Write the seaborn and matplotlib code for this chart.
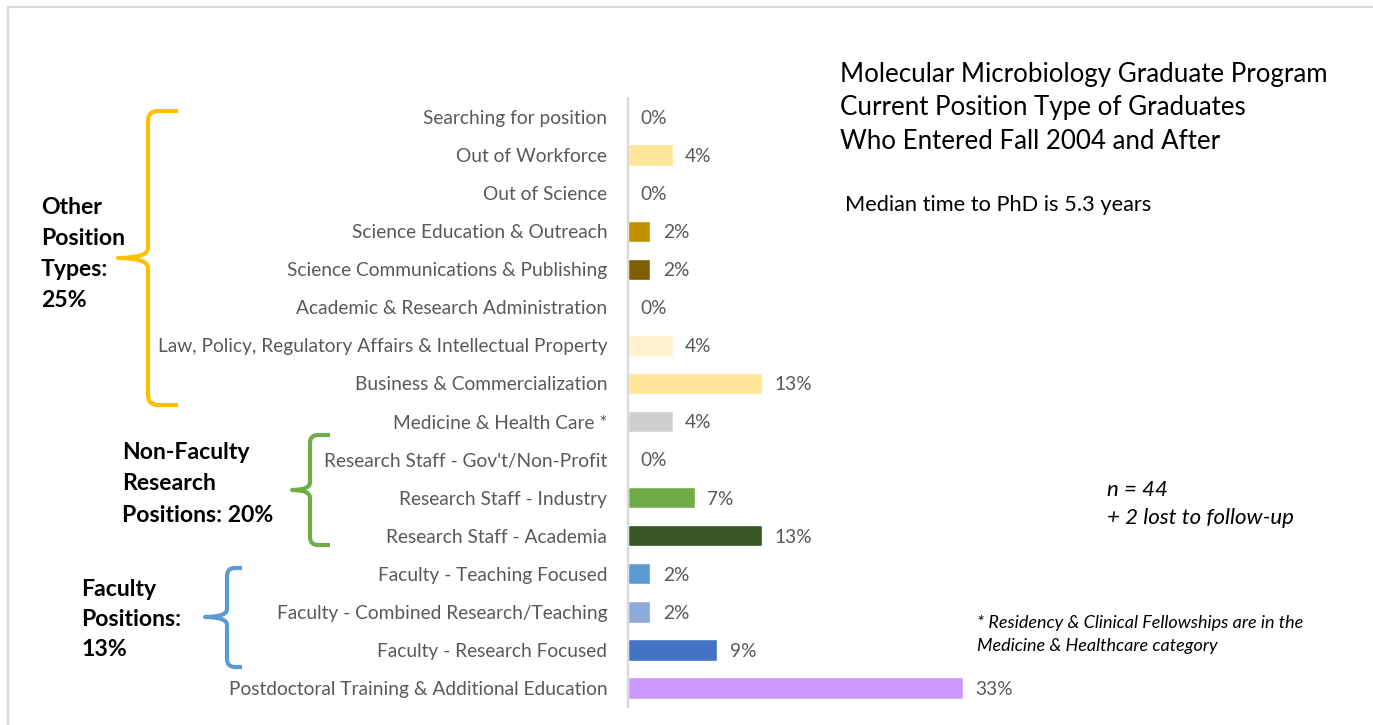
import matplotlib
matplotlib.use("Agg")
import matplotlib.pyplot as plt
from matplotlib.path import Path
from matplotlib.patches import PathPatch
import seaborn as sns
import pandas as pd

# Position categories, top to bottom
categories = [
    "Searching for position",
    "Out of Workforce",
    "Out of Science",
    "Science Education & Outreach",
    "Science Communications & Publishing",
    "Academic & Research Administration",
    "Law, Policy, Regulatory Affairs & Intellectual Property",
    "Business & Commercialization",
    "Medicine & Health Care *",
    "Research Staff - Gov't/Non-Profit",
    "Research Staff - Industry",
    "Research Staff - Academia",
    "Faculty - Teaching Focused",
    "Faculty - Combined Research/Teaching",
    "Faculty - Research Focused",
    "Postdoctoral Training & Additional Education",
]
# Graduates in each category (44 reached + 2 lost to follow-up)
counts = [0, 2, 0, 1, 1, 0, 2, 6, 2, 0, 3, 6, 1, 1, 4, 15]
total_graduates = 46

bar_colors = [
    "#FFE699", "#FFE699", "#FFE699", "#BF9000", "#7F6000", "#FFE699",
    "#FFF2CC", "#FFE699", "#D0CECE", "#A9D18E", "#70AD47", "#375623",
    "#5B9BD5", "#8EA9DB", "#4472C4", "#CC99FF",
]

percent = [c / total_graduates * 100 for c in counts]
df = pd.DataFrame({"category": categories, "percent": percent})
palette = dict(zip(categories, bar_colors))

sns.set_theme(style="white")
FONT = "Lato"
plt.rcParams["font.family"] = [FONT, "DejaVu Sans"]

W, H = 1373, 725
fig = plt.figure(figsize=(W / 100, H / 100), dpi=100)

# Main bar axes
ax = fig.add_axes([628 / W, 1 - 707 / H, 719 / W, 609 / H])
sns.barplot(data=df, x="percent", y="category", hue="category", palette=palette,
            order=categories, hue_order=categories, legend=False, width=0.56,
            saturation=1, ax=ax, orient="h")
ax.set_xlim(0, 70)
ax.set_ylim(len(categories) - 0.5, -0.5)
ax.set_xlabel("")
ax.set_ylabel("")
ax.set_xticks([])
for s in ["top", "right", "bottom"]:
    ax.spines[s].set_visible(False)
ax.spines["left"].set_color("#D9D9D9")
ax.spines["left"].set_linewidth(1.6)
ax.tick_params(axis="y", length=0, pad=15, labelsize=13.8, labelcolor="#595959")
for lbl in ax.get_yticklabels():
    lbl.set_fontfamily(FONT)
ax.set_facecolor("none")

for i, p in enumerate(percent):
    ax.annotate(f"{round(p):d}%", xy=(p, i), xytext=(9, -1), textcoords="offset points",
                ha="left", va="center", fontsize=13.8, color="#595959", family=FONT)

# Overlay in pixel coordinates for the frame, braces and notes
ov = fig.add_axes([0, 0, 1, 1], zorder=-1)
ov.set_xlim(0, W)
ov.set_ylim(H, 0)
ov.axis("off")
ov.plot([8, 8, W], [H, 7, 7], color="#D9D9D9", lw=1.6, solid_capstyle="butt")


def brace(x_spine, x_arm, x_tip, y_top, y_bot, y_mid, color, r=8):
    verts = [
        (x_arm, y_top), (x_spine + r, y_top), (x_spine, y_top), (x_spine, y_top + r),
        (x_spine, y_mid - r), (x_spine, y_mid), (x_tip, y_mid),
        (x_spine, y_mid), (x_spine, y_mid + r),
        (x_spine, y_bot - r), (x_spine, y_bot), (x_spine + r, y_bot), (x_arm, y_bot),
    ]
    codes = [
        Path.MOVETO, Path.LINETO, Path.CURVE3, Path.CURVE3,
        Path.LINETO, Path.CURVE3, Path.CURVE3,
        Path.CURVE3, Path.CURVE3,
        Path.LINETO, Path.CURVE3, Path.CURVE3, Path.LINETO,
    ]
    ov.add_patch(PathPatch(Path(verts, codes), facecolor="none", edgecolor=color,
                           lw=3.0, capstyle="butt", joinstyle="round"))


brace(148, 178, 118, 111, 405, 258, "#FFC000", r=10)
brace(310, 330, 292, 435, 545, 490, "#70AD47", r=8)
brace(227, 242, 205, 568, 667, 617, "#5B9BD5", r=8)

group_style = dict(fontsize=16.6, fontweight="bold", color="#000000", family=FONT,
                   ha="left", va="center")
for txt, y in zip(["Other", "Position", "Types:", "25%"], [207, 238, 269, 300]):
    ov.text(41, y, txt, **group_style)
for txt, y in zip(["Non-Faculty", "Research", "Positions: 20%"], [452, 483, 515]):
    ov.text(122, y, txt, **group_style)
for txt, y in zip(["Faculty", "Positions:", "13%"], [589, 619, 650]):
    ov.text(81, y, txt, **group_style)

title_lines = ["Molecular Microbiology Graduate Program",
               "Current Position Type of Graduates",
               "Who Entered Fall 2004 and After"]
for txt, y in zip(title_lines, [74, 107, 141]):
    ov.text(840, y, txt, fontsize=18.6, color="#000000", family=FONT, ha="left", va="center")
ov.text(845, 205, "Median time to PhD is 5.3 years", fontsize=15.7, color="#000000",
        family=FONT, ha="left", va="center")

ov.text(1107, 490, "n = 44", fontsize=16, style="italic", color="#000000",
        family=FONT, ha="left", va="center")
ov.text(1107, 518, "+ 2 lost to follow-up", fontsize=16, style="italic", color="#000000",
        family=FONT, ha="left", va="center")
ov.text(977, 623, "* Residency & Clinical Fellowships are in the", fontsize=13,
        style="italic", color="#000000", family=FONT, ha="left", va="center")
ov.text(977, 646, "Medicine & Healthcare category", fontsize=13,
        style="italic", color="#000000", family=FONT, ha="left", va="center")

fig.savefig("out.png", dpi=100, facecolor="white")
